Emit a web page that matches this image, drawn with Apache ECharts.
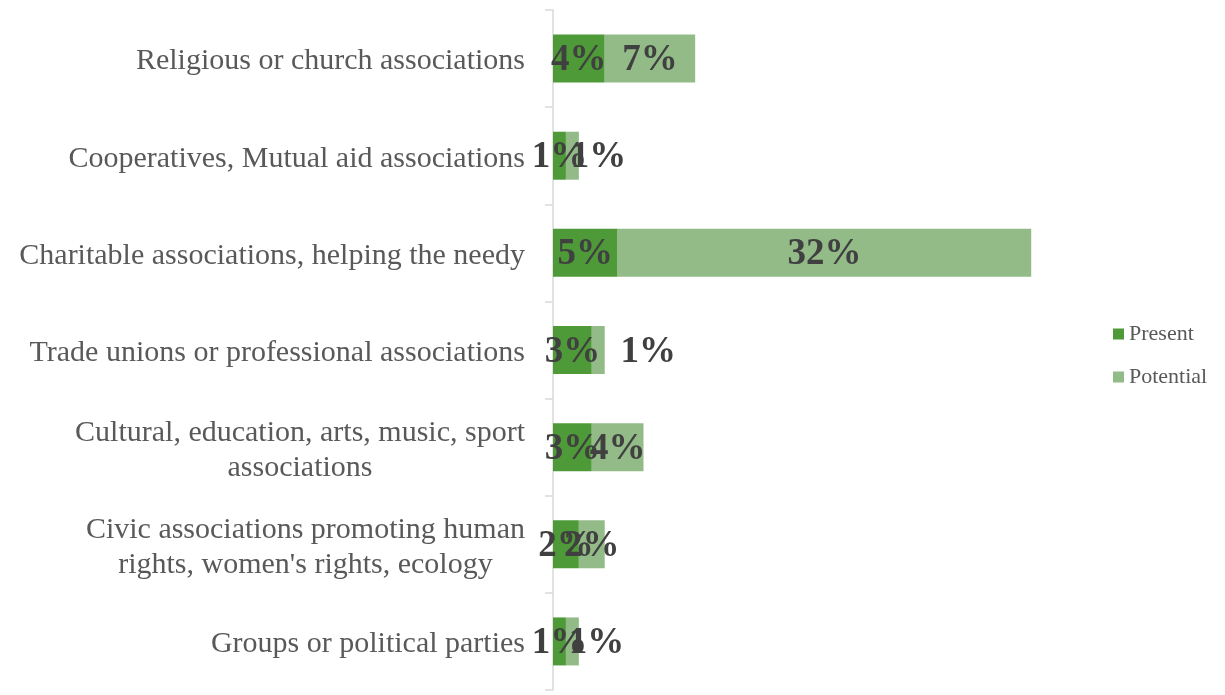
<!DOCTYPE html>
<html>
<head>
<meta charset="utf-8">
<script src="https://cdn.jsdelivr.net/npm/echarts@6/dist/echarts.min.js"></script>
<style>html,body{margin:0;padding:0;background:#fff}#c{width:1225px;height:695px}</style>
</head>
<body>
<div id="c"></div>
<script>
const categories = [
  "Religious or church associations",
  "Cooperatives, Mutual aid associations",
  "Charitable associations, helping the needy",
  "Trade unions or professional associations",
  "Cultural, education, arts, music, sport\nassociations",
  "Civic associations promoting human\nrights, women's rights, ecology",
  "Groups or political parties"
];
const presentValues = [4, 1, 5, 3, 3, 2, 1];
const potentialValues = [7, 1, 32, 1, 4, 2, 1];
const seriesNames = ["Present", "Potential"];

const serif = "'Liberation Serif', 'DejaVu Serif', serif";
const labelShift = {1: 26, 3: 50, 6: 24};

function mkData(vals, shifts) {
  return vals.map((v, i) => {
    const o = {value: v};
    if (shifts && shifts[i] != null) o.label = {offset: [shifts[i], 2]};
    return o;
  });
}

const chart = echarts.init(document.getElementById('c'));
const dataLabel = {
  show: true, position: 'inside', formatter: '{c}%', offset: [0, 2],
  color: '#404040', fontFamily: serif, fontWeight: 'bold', fontSize: 37
};
chart.setOption({
  animation: false,
  grid: {left: 553, right: 155, top: 10, bottom: 5, containLabel: false},
  legend: {
    orient: 'vertical', left: 1113, top: 323, padding: 0, itemWidth: 11, itemHeight: 11, itemGap: 21,
    icon: 'rect',
    textStyle: {fontFamily: serif, fontSize: 22, color: '#595959'},
    data: seriesNames
  },
  xAxis: {type: 'value', min: 0, max: 40, show: false},
  yAxis: {
    type: 'category', inverse: true, data: categories,
    axisLine: {lineStyle: {color: '#D9D9D9', width: 1.5}},
    axisTick: {show: true, length: 8, lineStyle: {color: '#D9D9D9', width: 1.5}},
    axisLabel: {
      margin: 28, align: 'right', fontFamily: serif, fontSize: 30, color: '#595959', lineHeight: 35,
      padding: [6, 0, 0, 0],
      formatter: v => v.split('\n').map(s => '{c|' + s + '}').join('\n'),
      rich: {c: {align: 'center', fontFamily: serif, fontSize: 30, color: '#595959', lineHeight: 35}}
    }
  },
  series: [
    {name: seriesNames[0], type: 'bar', stack: 't', barWidth: 48,
     itemStyle: {color: '#4E9A38'}, label: dataLabel, data: mkData(presentValues)},
    {name: seriesNames[1], type: 'bar', stack: 't', barWidth: 48,
     itemStyle: {color: '#93BB88'}, label: dataLabel, data: mkData(potentialValues, labelShift)}
  ]
});
</script>
</body>
</html>
